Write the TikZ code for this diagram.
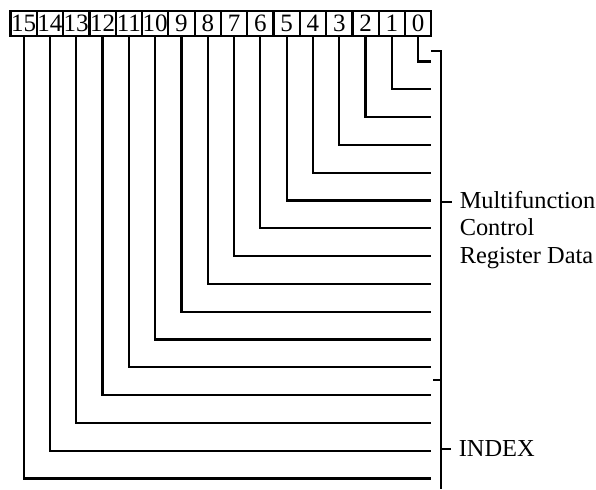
\documentclass[tikz,border=0pt]{standalone}
\usepackage{fontspec}
\setmainfont{Liberation Serif}
\usetikzlibrary{calc}
\usetikzlibrary{positioning}

\begin{document}
\begin{tikzpicture}[x=0.5pt,y=-0.5pt,line width=1.1pt,
    bitbox/.style={draw,minimum width=13.15pt,minimum height=12.5pt,inner sep=0pt,
        font=\fontsize{12.5}{12.5}\selectfont},
    fieldlabel/.style={anchor=west,align=left,font=\fontsize{12.2}{13.75}\selectfont}]
    \useasboundingbox (0,0) rectangle (596,489);

    % register bits 15..0
    \foreach \i in {0,...,15}{
        \node[bitbox] (b\i) at ({23.65+(15-\i)*26.3},23.5) {\raisebox{-1pt}{\i}};
    }

    % one line per bit
    \foreach \i in {0,...,15}{
        \coordinate (e\i) at (431,{61.5+\i*27.8});
        \draw (b\i.south) |- (e\i);
    }

    % data bracket
    \coordinate (dtop) at (431,51);
    \coordinate (dsplit) at (441,380);
    \coordinate (dtick) at (452,202);
    \draw (dtop) -| (dsplit);
    \draw (441,202) -- (dtick);
    \node[fieldlabel] (data) at ($(dtick)+(0,28)$) {Multifunction\\Control\\Register Data};

    % index bracket
    \coordinate (itop) at (433,380);
    \coordinate (ibot) at (441,489);
    \coordinate (itick) at (451,449);
    \draw (itop) -| (ibot);
    \draw (441,449) -- (itick);
    \node[fieldlabel] (index) at (itick) {INDEX};
\end{tikzpicture}
\end{document}
